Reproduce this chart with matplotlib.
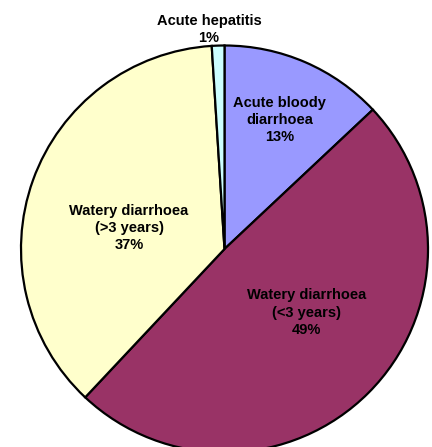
import numpy as np
import matplotlib.pyplot as plt

# Slice data, clockwise from 12 o'clock
labels = ["Acute bloody\ndiarrhoea", "Watery diarrhoea\n(<3 years)",
          "Watery diarrhoea\n(>3 years)", "Acute hepatitis"]
shares = [13, 49, 37, 1]
colors = ["#9999FF", "#993366", "#FFFFCC", "#CCFFFF"]

# where each label sits: (radius fraction, angle offset from wedge middle in deg)
label_pos = [(0.69, 0.3), (0.51, 7.2), (0.48, 7.4), (1.0, 2.6)]

W, H = 432, 447
fig = plt.figure(figsize=(W / 100, H / 100), dpi=100)
ax = fig.add_axes([0, 0, 1, 1])

cx, cy, r = 224.5, 198.0, 203.5
wedges, _ = ax.pie(shares, colors=colors, startangle=90, counterclock=False,
                   center=(cx, cy), radius=r,
                   wedgeprops=dict(edgecolor="black", linewidth=1.6))

ax.set_xlim(0, W)
ax.set_ylim(0, H)
ax.set_aspect("equal")
ax.axis("off")

font = dict(family="Liberation Sans", weight="bold", size=10.5,
            ha="center", linespacing=1.3)
for w, lab, s, (dist, off) in zip(wedges, labels, shares, label_pos):
    mid = np.deg2rad((w.theta1 + w.theta2) / 2 + off)
    tx = cx + dist * r * np.cos(mid)
    ty = cy + dist * r * np.sin(mid)
    if dist >= 1:
        # small slice: label sits outside, above the rim
        ax.text(tx, ty + 1, f"{lab}\n{s}%", va="bottom", **font)
    else:
        ax.text(tx, ty, f"{lab}\n{s}%", va="center", **font)

fig.savefig("out.png", dpi=100)
